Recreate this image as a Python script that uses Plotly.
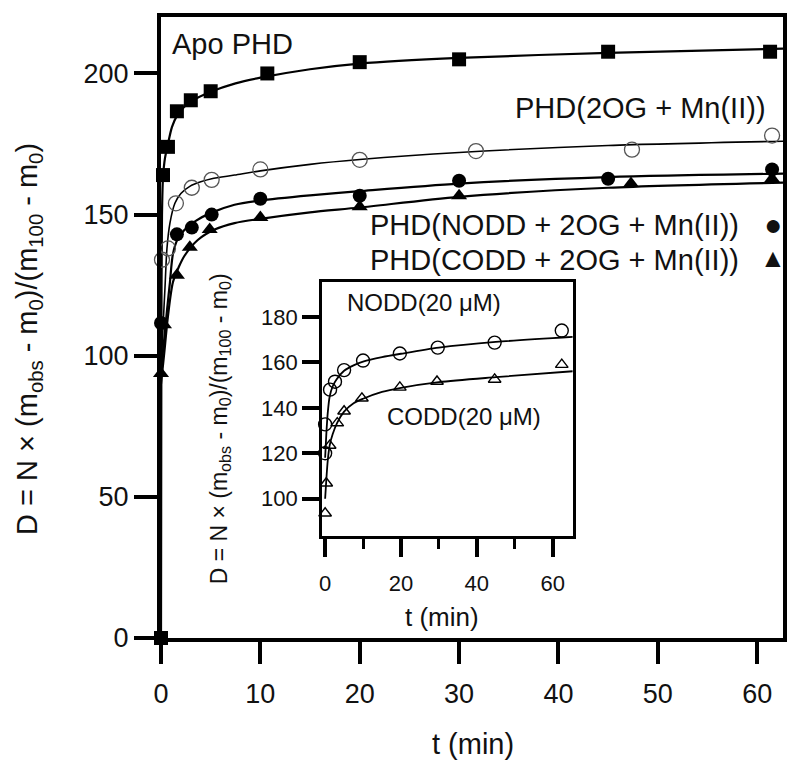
import plotly.graph_objects as go

# ---------------- main panel data ----------------
apo_t = [0, 0.2, 0.7, 1.6, 3.0, 5.0, 10.7, 20.0, 30.0, 45.0, 61.3]
apo_d = [0, 164, 174, 186.6, 190.5, 193.7, 200, 204, 205, 207.7, 207.7]
apo_fit_t = [0, 0.04, 0.1, 0.2, 0.4, 0.7, 1.1, 1.6, 2.3, 3.0, 5.0, 7.5, 10, 15, 20, 30, 45, 62.6]
apo_fit_d = [0, 110, 150, 163, 170, 175, 181, 185, 188, 190, 193.5, 196.5, 198.5, 201.5, 203.5, 205.5, 207.3, 208.8]

og_t = [0.1, 0.7, 1.5, 3.1, 5.1, 10.0, 20.0, 31.7, 47.4, 61.5]
og_d = [134, 138, 154, 159.5, 162.3, 166, 169.4, 172.5, 173, 178]
og_fit_t = [0, 0.2, 0.4, 0.6, 0.9, 1.4, 2.0, 2.9, 4.0, 5.1, 7.4, 10, 15, 20, 30, 45, 62.6]
og_fit_d = [95, 110, 124, 138, 147, 154, 157.5, 160, 161.6, 162.7, 164, 165.5, 167.8, 169.5, 172, 174.5, 176]

nodd_t = [0, 1.6, 3.1, 5.1, 10.0, 20.0, 30.0, 45.0, 61.5]
nodd_d = [111.6, 143, 145.4, 150, 155.6, 156.7, 162, 162.7, 166]
nodd_fit_t = [0, 0.3, 0.6, 0.9, 1.2, 1.7, 2.4, 3.5, 5.1, 7.4, 10, 15, 20, 30, 45, 62.6]
nodd_fit_d = [95, 105, 116, 126, 136, 141.5, 144.7, 147.8, 150.7, 153.5, 155, 156.8, 158.3, 161, 163.3, 164.5]

codd_t = [0, 0.3, 1.6, 2.9, 4.9, 10.0, 20.0, 30.0, 47.3, 61.5]
codd_d = [93.7, 111, 128.5, 138.4, 144.7, 149, 152.8, 156.7, 161, 162.7]
codd_fit_t = [0, 0.3, 0.7, 1.2, 1.8, 2.4, 3.7, 5.4, 7.4, 10, 15, 20, 30, 45, 62.6]
codd_fit_d = [90, 100, 114, 126, 131.5, 135.6, 141, 144.7, 147, 148.5, 150.8, 152.5, 156.3, 159.5, 161.3]

# ---------------- inset data ----------------
in_nodd_t = [0, 0, 1.3, 2.6, 5.0, 10.0, 19.7, 29.7, 44.7, 62.4]
in_nodd_d = [120, 132.7, 148, 151.5, 156.6, 160.8, 163.9, 166.5, 168.7, 174]
in_nodd_fit_t = [0, 0.3, 0.7, 1.2, 2.0, 3.0, 5.0, 7.5, 10, 15, 20, 30, 45, 65.3]
in_nodd_fit_d = [118, 128, 138, 145, 149.5, 152.5, 156.3, 158.7, 160.3, 162.3, 163.8, 166.5, 169, 171.2]

in_codd_t = [0, 0.3, 1.2, 3.2, 5.0, 9.7, 19.7, 29.5, 44.7, 62.4]
in_codd_d = [93.6, 106.8, 123.4, 133.3, 138.5, 144.2, 149, 151.6, 152.5, 159]
in_codd_fit_t = [0, 0.3, 0.7, 1.2, 2.0, 3.2, 5.0, 7.5, 10, 15, 20, 30, 45, 65.3]
in_codd_fit_d = [100, 108, 117, 123.5, 128.5, 133.5, 138.3, 142, 144, 147, 148.8, 151.3, 153.5, 156.1]

FONT = "Liberation Sans, Arial, Helvetica, sans-serif"
BLACK = "#000000"
TXT = "#111111"

fig = go.Figure()

def fit(x, y, w=2.2, xa="x", ya="y"):
    fig.add_trace(go.Scatter(x=x, y=y, mode="lines", xaxis=xa, yaxis=ya,
                             line=dict(color=BLACK, width=w, shape="spline", smoothing=0.8),
                             hoverinfo="skip", showlegend=False, cliponaxis=False))

def pts(x, y, symbol, size, color, lcolor, lw, xa="x", ya="y"):
    fig.add_trace(go.Scatter(x=x, y=y, mode="markers", xaxis=xa, yaxis=ya,
                             marker=dict(symbol=symbol, size=size, color=color,
                                         line=dict(color=lcolor, width=lw)),
                             showlegend=False, cliponaxis=False))

# main fits
fit(apo_fit_t, apo_fit_d)
fit(og_fit_t, og_fit_d, 1.6)
fit(nodd_fit_t, nodd_fit_d)
fit(codd_fit_t, codd_fit_d)
# main points
pts(apo_t, apo_d, "square", 14, BLACK, BLACK, 0)
pts(og_t, og_d, "circle-open", 15, "#555555", "#555555", 1.3)
pts(nodd_t, nodd_d, "circle", 14, BLACK, BLACK, 0)
pts(codd_t, codd_d, "triangle-up", 14, BLACK, BLACK, 0)

# inset fits and points
fit(in_nodd_fit_t, in_nodd_fit_d, 1.8, "x2", "y2")
fit(in_codd_fit_t, in_codd_fit_d, 1.8, "x2", "y2")
pts(in_nodd_t, in_nodd_d, "circle-open", 13, BLACK, BLACK, 1.4, "x2", "y2")
pts(in_codd_t, in_codd_d, "triangle-up-open", 11, BLACK, BLACK, 1.4, "x2", "y2")

axis_common = dict(showgrid=False, zeroline=False, showline=True, linecolor=BLACK,
                   ticks="outside", tickcolor=BLACK, mirror=True)

fig.update_layout(
    width=792, height=759,
    margin=dict(l=153, r=17, t=5, b=129),
    paper_bgcolor="white", plot_bgcolor="white",
    font=dict(family=FONT, color=TXT),
    showlegend=False,
    xaxis=dict(axis_common, range=[0, 62.6], dtick=10, tick0=0, linewidth=4,
               ticklen=22, tickwidth=4, domain=[0, 1], ticklabelstandoff=7,
               tickfont=dict(family=FONT, size=27, color=TXT)),
    yaxis=dict(axis_common, range=[0, 220], tickvals=[0, 50, 100, 150, 200],
               linewidth=4, ticklen=23, tickwidth=4, domain=[0, 1],
               tickfont=dict(family=FONT, size=27, color=TXT)),
    xaxis2=dict(axis_common, range=[-0.8, 65.3], tickvals=[0, 20, 40, 60],
                linewidth=3, ticklen=18, tickwidth=4, anchor="y2", ticklabelstandoff=8,
                domain=[0.259, 0.662], tickfont=dict(family=FONT, size=22, color=TXT),
                minor=dict(ticks="outside", ticklen=10, tickwidth=3, tickcolor=BLACK,
                           tickvals=[10, 30, 50], showgrid=False)),
    yaxis2=dict(axis_common, range=[83.8, 195.3], tickvals=[100, 120, 140, 160, 180],
                linewidth=3, ticklen=17, tickwidth=4, anchor="x2",
                domain=[0.165, 0.573], tickfont=dict(family=FONT, size=22, color=TXT)),
)

ann = []
def txt(x, y, s, size, xanchor="center", angle=0):
    ann.append(dict(x=x, y=y, xref="paper", yref="paper", text=s, showarrow=False,
                    xanchor=xanchor, yanchor="middle", textangle=angle,
                    font=dict(family=FONT, size=size, color=TXT)))

# positions given in reference-pixel terms, converted to paper fractions
W, H, L, T = 622.0, 625.0, 161.0, 13.0
def px(xp, yp):
    return (xp - L) / W, (T + H - yp) / H

ylab = "D = N × (m<sub>obs</sub> - m<sub>0</sub>)/(m<sub>100</sub> - m<sub>0</sub>)"
x_, y_ = px(29, 337); txt(x_, y_, ylab, 29, angle=-90)
x_, y_ = px(473, 745); txt(x_, y_, "t (min)", 29)
x_, y_ = px(170, 40); txt(x_, y_, "Apo PHD", 29, "left")
x_, y_ = px(768, 105); txt(x_, y_, "PHD(2OG + Mn(II))", 29, "right")
x_, y_ = px(741, 222); txt(x_, y_, "PHD(NODD + 2OG + Mn(II))", 29, "right")
x_, y_ = px(741, 258); txt(x_, y_, "PHD(CODD + 2OG + Mn(II))", 29, "right")
x_, y_ = px(773, 222); txt(x_, y_, "●", 30)
x_, y_ = px(773, 256); txt(x_, y_, "▲", 26)
# inset texts
x_, y_ = px(220, 428); txt(x_, y_, ylab, 23, angle=-90)
x_, y_ = px(442, 617); txt(x_, y_, "t (min)", 26)
x_, y_ = px(345, 300); txt(x_, y_, "NODD(20 μM)", 24, "left")
x_, y_ = px(385, 415); txt(x_, y_, "CODD(20 μM)", 24, "left")

fig.update_layout(annotations=ann)
fig.write_html("out.html")
